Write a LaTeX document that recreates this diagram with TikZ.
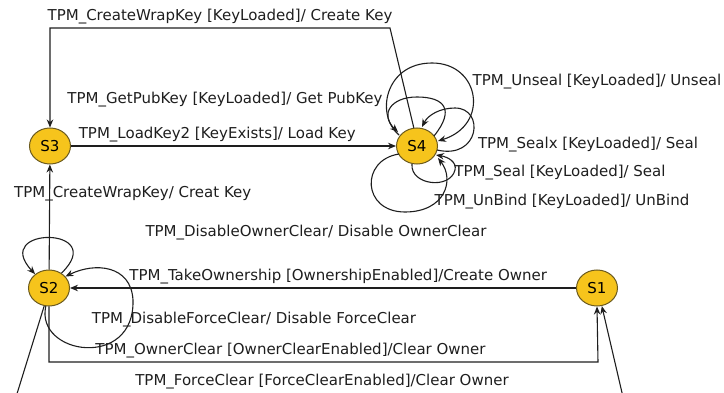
\documentclass[tikz,border=0pt]{standalone}
\usepackage{fontspec}
\setmainfont{DejaVu Sans}
\usepackage{tikz}
\usetikzlibrary{shapes, arrows.meta}

\definecolor{StateFill}{HTML}{F6C41C}
\definecolor{StateLine}{HTML}{6B5A1E}
\definecolor{EdgeLine}{HTML}{1E1E1E}

\tikzset{
	statenode/.style={ellipse, draw=StateLine, fill=StateFill, line width=1pt, minimum width=41pt, minimum height=36pt, inner sep=0pt},
	trans/.style={-{Stealth[length=8pt,width=6.5pt]}, draw=EdgeLine, line width=1.1pt},
	plain/.style={draw=EdgeLine, line width=1.1pt},
	lbl/.style={anchor=mid, inner sep=0pt, text=EdgeLine}
}

\begin{document}
\begin{tikzpicture}[x=1pt, y=1pt, font=\fontsize{15}{18}\selectfont]
			\useasboundingbox (0,0) rectangle (724,-393);
			\node[statenode] (S3) at (50,-146) {S3};
			\node[statenode] (S4) at (417,-146) {S4};
			\node[statenode] (S2) at (49,-288) {S2};
			\node[statenode] (S1) at (597,-288) {S1};
			\coordinate (TopCorner) at (390,-28);
			\coordinate (BottomCorner) at (598,-362);
			\coordinate (LeftEnd) at (16,-397);
			\coordinate (RightEnd) at (623,-397);
			\draw[trans] (S4.100) -- (TopCorner) -| node[pos=0.25, above, text=EdgeLine] (CreateWrapText) {TPM\_CreateWrapKey [KeyLoaded]/ Create Key} (S3.north);
			\draw[trans] (S3) -- node[pos=0.45, above, text=EdgeLine] (LoadKeyText) {TPM\_LoadKey2 [KeyExists]/ Load Key} (S4);
			\draw[trans] (S2) -- node[pos=0.72, xshift=83pt, inner sep=0pt, text=EdgeLine] (CreatKeyText) {TPM\_CreateWrapKey/ Creat Key} (S3);
			\draw[trans] (S1) -- node[pos=0.47, above, text=EdgeLine] (TakeOwnerText) {TPM\_TakeOwnership [OwnershipEnabled]/Create Owner} (S2);
			\draw[trans] (S2.south) |- node[pos=0.72, above, text=EdgeLine] (OwnerClearText) {TPM\_OwnerClear [OwnerClearEnabled]/Clear Owner} (BottomCorner) -- (S1.south);
			\draw[plain] (S2.-105) -- (LeftEnd);
			\draw[trans] (RightEnd) -- (S1.-75);
			% loops on S2
			\draw[trans] (S2.50) .. controls (110,-226) and (-10,-226) .. (S2.135);
			\draw[trans] (S2.-100) .. controls (35,-355) and (135,-370) .. (133,-300) .. controls (131,-265) and (95,-262) .. (S2.35);
			% loops on S4
			\draw[trans] (434,-136) .. controls (455,-110) and (445,-97) .. (417,-97) .. controls (390,-97) and (380,-115) .. (398,-132);
			\draw[trans] (399,-135) .. controls (375,-115) and (385,-63) .. (432,-63) .. controls (480,-63) and (490,-125) .. (438,-141);
			\draw[trans] (437,-150) .. controls (480,-160) and (485,-108) .. (455,-108) .. controls (440,-108) and (428,-115) .. (422,-127);
			\draw[trans] (412,-164) .. controls (410,-185) and (450,-190) .. (455,-170) .. controls (457,-162) and (448,-157) .. (436,-155);
			\draw[trans] (399,-154) .. controls (360,-160) and (362,-212) .. (405,-212) .. controls (445,-212) and (455,-180) .. (438,-158);
			\node[lbl] (GetPubKeyText) at (225,-101) {TPM\_GetPubKey [KeyLoaded]/ Get PubKey};
			\node[lbl] (UnsealText) at (597,-83) {TPM\_Unseal [KeyLoaded]/ Unseal};
			\node[lbl] (SealxText) at (588,-146) {TPM\_Sealx [KeyLoaded]/ Seal};
			\node[lbl] (SealText) at (560,-174) {TPM\_Seal [KeyLoaded]/ Seal};
			\node[lbl] (UnBindText) at (562,-203) {TPM\_UnBind [KeyLoaded]/ UnBind};
			\node[lbl] (DisOwnerText) at (316,-234) {TPM\_DisableOwnerClear/ Disable OwnerClear};
			\node[lbl] (DisForceText) at (254,-321) {TPM\_DisableForceClear/ Disable ForceClear};
			\node[lbl] (ForceClearText) at (322,-383) {TPM\_ForceClear [ForceClearEnabled]/Clear Owner};
		\end{tikzpicture}
\end{document}
